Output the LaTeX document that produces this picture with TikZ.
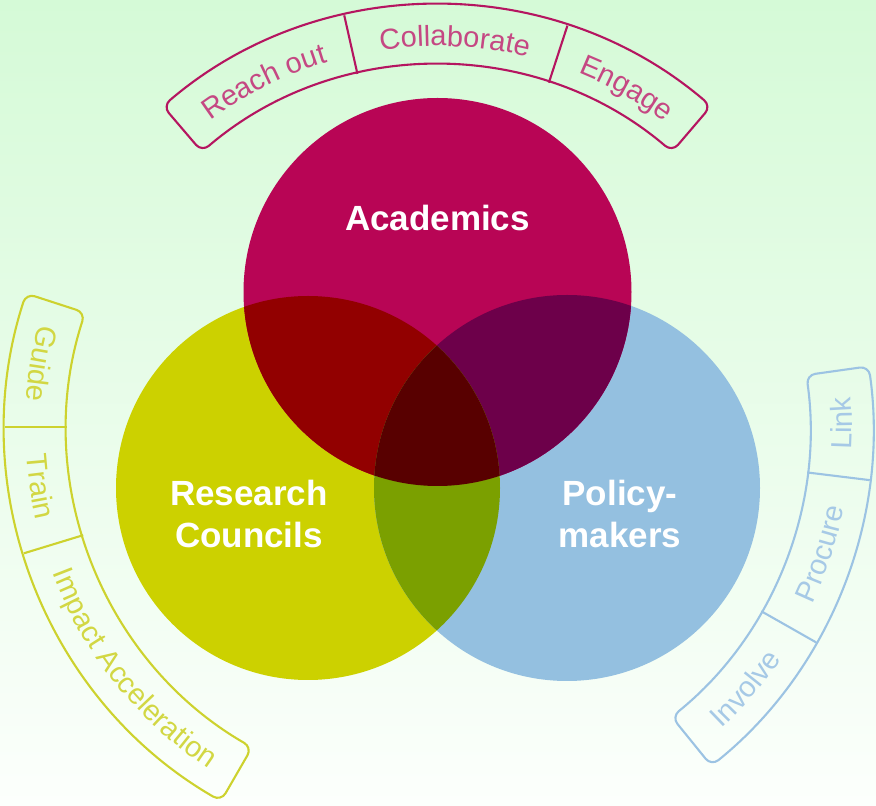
\documentclass[tikz,border=0pt]{standalone}
\usepackage{fontspec}
\setmainfont{Liberation Sans}
\usetikzlibrary{decorations.text}
\definecolor{bgtop}{HTML}{D5FAD7}
\definecolor{bgbot}{HTML}{FCFFFC}
\definecolor{cA}{HTML}{B80555}
\definecolor{cR}{HTML}{CCD100}
\definecolor{cP}{HTML}{94C0E0}
\definecolor{cAR}{HTML}{920000}
\definecolor{cAP}{HTML}{6D004A}
\definecolor{cRP}{HTML}{7BA000}
\definecolor{cARP}{HTML}{580000}
\definecolor{topc}{HTML}{B51560}
\definecolor{leftc}{HTML}{CDD22E}
\definecolor{rightc}{HTML}{9CC3E3}
\colorlet{topt}{topc!78!white}
\colorlet{leftt}{leftc!90!white}
\colorlet{rightt}{rightc!90!white}
\newcommand\bandfont{\fontsize{29}{34}\selectfont}
\newcommand\BandTxt[5]{%
  \path[decorate, decoration={text along path, text color=#1, text align=center,
    text={|\bandfont|#5}}] ([shift={(#3:#2)}]O) arc[start angle=#3, end angle=#4, radius=#2];}
\begin{document}
\begin{tikzpicture}[x=1pt,y=1pt,
  bandline/.style={line width=2.1pt, line join=round, rounded corners=9pt},
  divline/.style={line width=2.1pt},
  vennlabel/.style={text=white, font=\fontsize{35}{42}\selectfont\bfseries, inner sep=0pt, align=center}]
\useasboundingbox (0,0) rectangle (876,806);
\shade[top color=bgtop, bottom color=bgbot] (0,0) rectangle (876,806);
\coordinate (O) at (437,379);
\coordinate (A) at (437.5,514);
\coordinate (R) at (308,318);
\coordinate (P) at (567,318);
% circles
\fill[cR] (R) circle[radius=192];
\fill[cP] (P) circle[radius=193];
\fill[cA] (A) circle[radius=194];
\begin{scope}
  \clip (A) circle[radius=194];
  \fill[cAR] (R) circle[radius=192];
  \fill[cAP] (P) circle[radius=193];
\end{scope}
\begin{scope}
  \clip (R) circle[radius=192];
  \fill[cRP] (P) circle[radius=193];
  \clip (A) circle[radius=194];
  \fill[cARP] (P) circle[radius=193];
\end{scope}
% labels
\node[vennlabel, anchor=base] (acad) at (437.5,575) {Academics};
\node[vennlabel] (rc) at (249,292.5) {Research\\Councils};
\node[vennlabel] (pm) at (620,292.5) {Policy-\\makers};
% top band
\draw[topc, bandline] ([shift={(130.5:422)}]O) arc[start angle=130.5, end angle=49.5, radius=422]
  -- ([shift={(49.5:362)}]O) arc[start angle=49.5, end angle=130.5, radius=362] -- cycle;
\draw[topc, divline] ([shift={(102.7:362)}]O) -- ([shift={(102.7:422)}]O);
\draw[topc, divline] ([shift={(72:362)}]O) -- ([shift={(72:422)}]O);
\BandTxt{topt}{381}{130.5}{102.7}{Reach out}
\BandTxt{topt}{381}{102.7}{72}{Collaborate}
\BandTxt{topt}{381}{72}{49.5}{Engage}
% left band
\draw[leftc, bandline] ([shift={(162:432)}]O) arc[start angle=162, end angle=240, radius=432]
  -- ([shift={(240:370)}]O) arc[start angle=240, end angle=162, radius=370] -- cycle;
\draw[leftc, divline] ([shift={(180:370)}]O) -- ([shift={(180:432)}]O);
\draw[leftc, divline] ([shift={(197:370)}]O) -- ([shift={(197:432)}]O);
\BandTxt{leftt}{411.5}{162}{180}{Guide}
\BandTxt{leftt}{411.5}{180}{197}{Train}
\BandTxt{leftt}{411.5}{197}{240}{Impact Acceleration}
% right band
\draw[rightc, bandline] ([shift={(-51:436)}]O) arc[start angle=-51, end angle=8, radius=436]
  -- ([shift={(8:373)}]O) arc[start angle=8, end angle=-51, radius=373] -- cycle;
\draw[rightc, divline] ([shift={(-7:373)}]O) -- ([shift={(-7:436)}]O);
\draw[rightc, divline] ([shift={(-29.6:373)}]O) -- ([shift={(-29.6:436)}]O);
\BandTxt{rightt}{415}{-51}{-29.6}{Involve}
\BandTxt{rightt}{415}{-29.6}{-7}{Procure}
\BandTxt{rightt}{415}{-7}{8}{Link}
\end{tikzpicture}
\end{document}
